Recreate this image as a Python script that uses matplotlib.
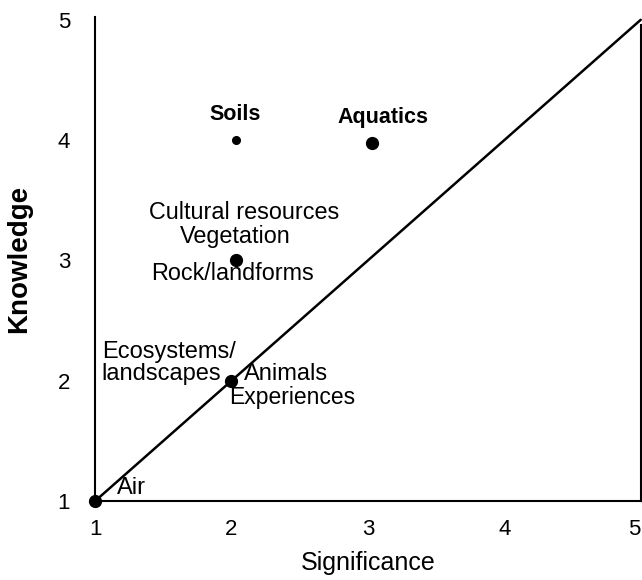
import matplotlib
matplotlib.use("Agg")
import matplotlib.pyplot as plt

plt.rcParams['font.family'] = ['Liberation Sans', 'DejaVu Sans']

# resource points (significance, knowledge)
significance = [1.0, 2.0, 2.03, 2.03, 3.03]
knowledge = [1.0, 2.0, 3.0, 4.0, 3.98]
big_dot = [True, True, True, False, True]

ticks = [1, 2, 3, 4, 5]

# text labels: (text, x, y, ha, weight, size)
labels = [
    ("Soils", 2.03, 4.21, "center", "bold", 15.5),
    ("Aquatics", 3.11, 4.19, "center", "bold", 15.5),
    ("Cultural resources", 2.09, 3.40, "center", "normal", 16.8),
    ("Vegetation", 2.03, 3.20, "center", "normal", 16.8),
    ("Rock/landforms", 2.01, 2.89, "center", "normal", 16.8),
    ("Ecosystems/", 1.05, 2.24, "left", "normal", 17),
    ("landscapes", 1.05, 2.06, "left", "normal", 17),
    ("Animals", 2.09, 2.06, "left", "normal", 17),
    ("Experiences", 1.98, 1.86, "left", "normal", 16.5),
    ("Air", 1.16, 1.11, "left", "normal", 17),
]

fig = plt.figure(figsize=(6.42, 5.8), dpi=100)
ax = fig.add_axes([0.148, 0.136, 0.850, 0.834])

# 1:1 line
ax.plot([1, 5], [1, 5], color="black", lw=1.8, solid_capstyle="round", clip_on=False)

for x, y, big in zip(significance, knowledge, big_dot):
    ax.plot(x, y, "o", color="black", ms=8.5 if big else 5.5, clip_on=False, zorder=3)

for txt, x, y, ha, w, fs in labels:
    ax.text(x, y, txt, ha=ha, va="center", fontsize=fs, fontweight=w)

ax.set_xlim(1, 5)
ax.set_ylim(1, 5.02)
ax.set_xticks(ticks)
ax.set_yticks(ticks)
ax.tick_params(length=0, labelsize=16)
ax.tick_params(axis="x", pad=13)
ax.tick_params(axis="y", pad=18)
ax.get_xticklabels()[-1].set_horizontalalignment("right")

ax.spines["top"].set_visible(False)
for s in ["left", "bottom", "right"]:
    ax.spines[s].set_linewidth(1.5)
ax.spines["right"].set_bounds(1, 4.96)

ax.set_xlabel("Significance", fontsize=18, labelpad=8)
ax.set_ylabel("Knowledge", fontsize=20, fontweight="bold", labelpad=18)

fig.savefig("out.png", dpi=100)
